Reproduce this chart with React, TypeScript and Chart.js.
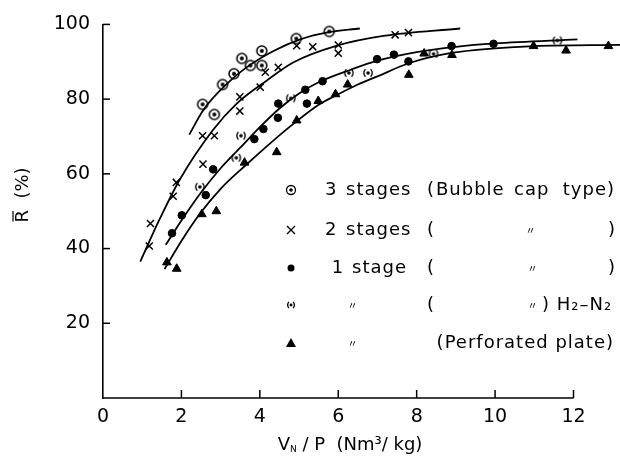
import React, { useEffect, useRef } from "react";
import { Chart, registerables } from "chart.js";
Chart.register(...registerables);

// ---- axis ticks ----
const xTicks = [0, 2, 4, 6, 8, 10, 12];
const yTicks = [20, 40, 60, 80, 100];
const xAxisEnd = 12;

// ---- data: 3 stages (bubble cap) ----
const s3X = [2.54, 2.84, 3.05, 3.34, 3.54, 3.76, 4.05, 4.05, 4.93, 5.77];
const s3Y = [78.6, 75.9, 83.9, 86.8, 90.9, 89.0, 89.0, 92.9, 96.2, 98.1];
// ---- 2 stages ----
const s2X = [1.18, 1.21, 1.79, 1.87, 2.55, 2.54, 2.84, 3.49, 3.49, 4.01, 4.14, 4.47, 4.94, 5.35, 6.0, 6.0, 7.45, 7.79];
const s2Y = [40.7, 46.7, 54.0, 57.7, 62.6, 70.2, 70.2, 76.8, 80.6, 83.2, 87.2, 88.5, 94.3, 94.0, 94.5, 92.3, 97.2, 97.8];
// ---- 1 stage ----
const s1X = [1.76, 2.01, 2.62, 2.81, 3.86, 4.09, 4.46, 4.47, 5.2, 5.16, 5.6, 6.99, 7.42, 7.79, 8.89, 9.96];
const s1Y = [44.1, 48.9, 54.3, 61.2, 69.3, 72.0, 75.0, 78.8, 78.8, 82.5, 84.8, 90.7, 91.9, 90.1, 94.2, 94.8];
// ---- 1 stage, H2-N2 ----
const hnX = [2.47, 3.4, 3.52, 4.79, 6.27, 6.76, 8.43, 11.59];
const hnY = [56.5, 64.3, 70.2, 80.2, 87.0, 87.0, 92.1, 95.7];
// ---- perforated plate ----
const ppX = [1.63, 1.88, 2.52, 2.89, 3.61, 4.43, 4.94, 5.49, 5.93, 6.24, 7.8, 8.19, 8.9, 10.98, 11.81, 12.89];
const ppY = [36.3, 34.6, 49.2, 50.0, 63.0, 65.8, 74.3, 79.5, 81.3, 83.9, 86.5, 92.2, 91.8, 94.2, 93.0, 94.2];

// ---- fitted curves ----
const c3X = [2.2, 2.56, 3.16, 3.66, 4.35, 5.03, 5.7, 6.55];
const c3Y = [70.5, 77.1, 84.1, 88.5, 92.9, 96.0, 97.8, 98.9];
const c2X = [0.95, 1.45, 1.96, 2.81, 3.41, 4.18, 4.85, 5.97, 7.15, 9.11];
const c2Y = [36.5, 48.0, 58.5, 71.8, 78.8, 85.0, 89.8, 94.3, 96.9, 98.9];
const c1X = [1.6, 2.0, 2.5, 3.0, 3.5, 4.0, 4.5, 5.0, 5.5, 6.3, 7.0, 8.0, 9.0, 10.0, 12.1];
const c1Y = [41.0, 47.5, 55.0, 61.5, 67.0, 72.5, 77.5, 81.5, 84.5, 87.8, 90.3, 92.6, 94.0, 94.9, 96.0];
const cpX = [1.57, 2.0, 2.47, 3.0, 3.66, 4.3, 4.87, 5.5, 6.0, 6.5, 7.0, 7.8, 8.85, 10.0, 11.0, 13.2];
const cpY = [34.5, 42.0, 49.3, 56.0, 62.5, 68.5, 73.5, 78.5, 81.3, 83.9, 86.1, 89.6, 92.3, 93.6, 94.2, 94.5];

const FONT = '"DejaVu Sans", sans-serif';

const zip = (xs: number[], ys: number[]) => xs.map((x, i) => ({ x, y: ys[i] }));

function makeCanvas(w: number, h: number) {
  const c = document.createElement("canvas");
  c.width = w;
  c.height = h;
  return c;
}

function drawBubble(ctx: CanvasRenderingContext2D, x: number, y: number, r: number, d: number) {
  ctx.beginPath();
  ctx.arc(x, y, r, 0, Math.PI * 2);
  ctx.stroke();
  ctx.beginPath();
  ctx.arc(x, y, d, 0, Math.PI * 2);
  ctx.fill();
}

function drawParenDot(ctx: CanvasRenderingContext2D, x: number, y: number, s: number) {
  ctx.beginPath();
  ctx.arc(x, y, 1.8 * s, 0, Math.PI * 2);
  ctx.fill();
  ctx.beginPath();
  ctx.arc(x + 2 * s, y, 6 * s, Math.PI * 0.78, Math.PI * 1.22);
  ctx.stroke();
  ctx.beginPath();
  ctx.arc(x - 2 * s, y, 6 * s, -Math.PI * 0.22, Math.PI * 0.22);
  ctx.stroke();
}

function bubbleImg() {
  const c = makeCanvas(14, 14);
  const ctx = c.getContext("2d")!;
  ctx.strokeStyle = "#000";
  ctx.fillStyle = "#000";
  ctx.lineWidth = 1.5;
  drawBubble(ctx, 7, 7, 5, 2);
  return c;
}

function parenImg() {
  const c = makeCanvas(16, 14);
  const ctx = c.getContext("2d")!;
  ctx.strokeStyle = "#000";
  ctx.fillStyle = "#000";
  ctx.lineWidth = 1.3;
  drawParenDot(ctx, 8, 7, 1);
  return c;
}

function drawText(ctx: CanvasRenderingContext2D, t: string, x: number, y: number, align: CanvasTextAlign = "left") {
  ctx.textAlign = align;
  ctx.fillText(t, x, y);
}

const decorPlugin = {
  id: "decor",
  afterDraw(chart: any) {
    const ctx: CanvasRenderingContext2D = chart.ctx;
    const xs = chart.scales.x;
    const ys = chart.scales.y;
    const area = chart.chartArea;
    ctx.save();
    ctx.strokeStyle = "#000";
    ctx.fillStyle = "#000";
    // x axis line (ends at 12)
    ctx.lineWidth = 1.6;
    ctx.beginPath();
    ctx.moveTo(area.left - 0.8, area.bottom);
    ctx.lineTo(xs.getPixelForValue(xAxisEnd), area.bottom);
    ctx.stroke();
    ctx.lineWidth = 1.5;
    // inward ticks
    for (const v of xTicks) {
      if (v === 0) continue;
      const px = xs.getPixelForValue(v);
      ctx.beginPath();
      ctx.moveTo(px, area.bottom);
      ctx.lineTo(px, area.bottom - 8);
      ctx.stroke();
    }
    for (const v of yTicks) {
      const py = ys.getPixelForValue(v);
      ctx.beginPath();
      ctx.moveTo(area.left, py);
      ctx.lineTo(area.left + 7, py);
      ctx.stroke();
    }

    // y title (rotated)
    ctx.save();
    ctx.translate(23, 195);
    ctx.rotate(-Math.PI / 2);
    ctx.font = `18px ${FONT}`;
    ctx.textBaseline = "middle";
    const yt = "R  (%)";
    const w = ctx.measureText(yt).width;
    const wr = ctx.measureText("R").width;
    drawText(ctx, yt, -w / 2, 0);
    ctx.lineWidth = 1.2;
    ctx.beginPath();
    ctx.moveTo(-w / 2 + 1, -10);
    ctx.lineTo(-w / 2 + wr - 1, -10);
    ctx.stroke();
    ctx.restore();

    // x title
    ctx.textBaseline = "alphabetic";
    const baseY = 450;
    const p1 = "V";
    const p3 = " / P  (Nm³/ kg)";
    ctx.font = `18px ${FONT}`;
    const w1 = ctx.measureText(p1).width;
    const w3 = ctx.measureText(p3).width;
    ctx.font = `9px ${FONT}`;
    const w2 = ctx.measureText("N").width;
    const total = w1 + w2 + w3;
    const x0 = 350 - total / 2;
    ctx.font = `18px ${FONT}`;
    drawText(ctx, p1, x0, baseY);
    ctx.font = `9px ${FONT}`;
    drawText(ctx, "N", x0 + w1, baseY + 2);
    ctx.font = `18px ${FONT}`;
    drawText(ctx, p3, x0 + w1 + w2, baseY);

    // legend
    (ctx as any).letterSpacing = "1px";
    ctx.textBaseline = "middle";
    const font = `18px ${FONT}`;
    const dit = (x: number, y: number) => {
      ctx.font = `10px "Noto Sans CJK JP", ${FONT}`;
      drawText(ctx, "〃", x, y, "center");
      ctx.font = font;
    };
    const mx = 291;
    ctx.lineWidth = 1.3;
    // row 1
    let y = 190;
    drawBubble(ctx, mx, y, 4.5, 1.8);
    ctx.font = font;
    drawText(ctx, "3", 325, y);
    drawText(ctx, "stages", 346, y);
    drawText(ctx, "(", 427, y);
    drawText(ctx, "Bubble", 436, y);
    drawText(ctx, "cap", 514, y);
    drawText(ctx, "type)", 615, y, "right");
    // row 2
    y = 230;
    ctx.beginPath();
    ctx.moveTo(mx - 4, y - 4);
    ctx.lineTo(mx + 4, y + 4);
    ctx.moveTo(mx + 4, y - 4);
    ctx.lineTo(mx - 4, y + 4);
    ctx.stroke();
    drawText(ctx, "2", 325, y);
    drawText(ctx, "stages", 346, y);
    drawText(ctx, "(", 427, y);
    dit(531, y);
    drawText(ctx, ")", 616, y, "right");
    // row 3
    y = 268;
    ctx.beginPath();
    ctx.arc(mx, y, 3.5, 0, Math.PI * 2);
    ctx.fill();
    drawText(ctx, "1", 338, y, "center");
    drawText(ctx, "stage", 352, y);
    drawText(ctx, "(", 427, y);
    dit(533, y);
    drawText(ctx, ")", 616, y, "right");
    // row 4
    y = 305;
    drawParenDot(ctx, mx, y, 0.8);
    dit(353, y);
    drawText(ctx, "(", 427, y);
    dit(533, y);
    drawText(ctx, ") H₂–N₂", 542, y);
    // row 5
    y = 343;
    ctx.beginPath();
    ctx.moveTo(mx, y - 5);
    ctx.lineTo(mx + 5, y + 4);
    ctx.lineTo(mx - 5, y + 4);
    ctx.closePath();
    ctx.fill();
    dit(353, y);
    drawText(ctx, "(Perforated plate)", 614, y, "right");
    ctx.restore();
  },
};

export default function App() {
  const ref = useRef<HTMLCanvasElement>(null);
  useEffect(() => {
    const canvas = ref.current!;
    const bub = bubbleImg();
    const par = parenImg();
    const curve = (xs: number[], ys: number[]) => ({
      data: zip(xs, ys),
      showLine: true,
      pointRadius: 0,
      borderColor: "#000",
      borderWidth: 1.8,
      cubicInterpolationMode: "monotone" as const,
      clip: false as any,
    });
    const marks = (xs: number[], ys: number[], style: any, r: number, bw = 1) => ({
      data: zip(xs, ys),
      showLine: false,
      pointStyle: style,
      pointRadius: r,
      backgroundColor: "#000",
      borderColor: "#000",
      borderWidth: bw,
      clip: false as any,
    });
    const chart = new Chart(canvas, {
      type: "scatter",
      data: {
        datasets: [
          curve(c3X, c3Y),
          curve(c2X, c2Y),
          curve(c1X, c1Y),
          curve(cpX, cpY),
          marks(s3X, s3Y, bub, 5),
          marks(s2X, s2Y, "crossRot", 5, 1.5),
          marks(s1X, s1Y, "circle", 3.8),
          marks(hnX, hnY, par, 5),
          marks(ppX, ppY, "triangle", 5),
        ] as any,
      },
      options: {
        responsive: false,
        animation: false,
        devicePixelRatio: 1,
        layout: { padding: { left: 0, top: 21, right: 0, bottom: 0 } },
        plugins: { legend: { display: false }, tooltip: { enabled: false } },
        scales: {
          x: {
            type: "linear",
            min: 0,
            max: 13.02,
            afterFit: (s: any) => {
              s.height = 66;
            },
            afterBuildTicks: (s: any) => {
              s.ticks = xTicks.map((v) => ({ value: v }));
            },
            ticks: { color: "#000", font: { family: FONT, size: 19 }, padding: 8, maxRotation: 0 },
            grid: { display: false, drawTicks: false },
            border: { display: false },
          },
          y: {
            type: "linear",
            min: 0,
            max: 100,
            afterFit: (s: any) => {
              s.width = 103;
            },
            afterBuildTicks: (s: any) => {
              s.ticks = [0, ...yTicks].map((v) => ({ value: v }));
            },
            ticks: {
              color: "#000",
              font: { family: FONT, size: 19 },
              padding: 13,
              callback: (v: any) => (v === 0 ? "" : String(v)),
            },
            grid: { display: false, drawTicks: false },
            border: { display: true, color: "#000", width: 1.6 },
          },
        },
      },
      plugins: [decorPlugin],
    });
    return () => chart.destroy();
  }, []);
  return (
    <div style={{ position: "absolute", left: 0, top: 0, width: 620, height: 464, background: "#fff" }}>
      <canvas ref={ref} width={620} height={464} style={{ display: "block" }} />
    </div>
  );
}
